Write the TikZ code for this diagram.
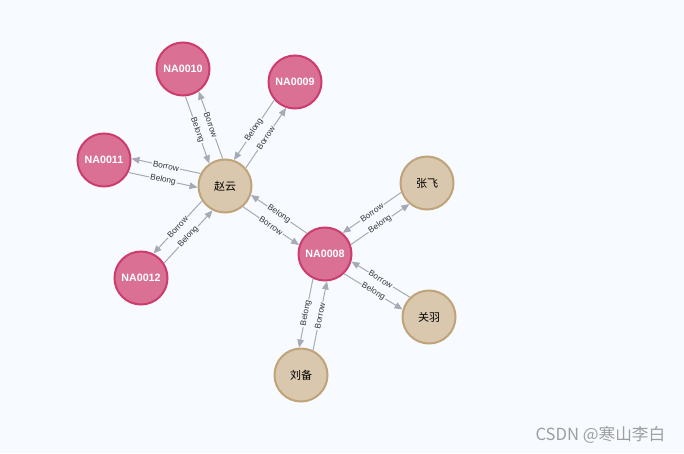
\documentclass[tikz,border=0pt]{standalone}
\usepackage{fontspec}
\setmainfont{Liberation Sans}
\newfontfamily\cjk{Noto Sans CJK SC}
\usetikzlibrary{arrows.meta}

\definecolor{bgcol}{HTML}{F7FBFF}
\definecolor{bookfill}{HTML}{DA7194}
\definecolor{bookline}{HTML}{CC3C6C}
\definecolor{personfill}{HTML}{D9C8AE}
\definecolor{personline}{HTML}{C0A378}
\definecolor{relcol}{HTML}{A5ABB6}

\begin{document}
\begin{tikzpicture}[x=0.75pt,y=-0.75pt,
  book/.style={circle,draw=bookline,fill=bookfill,line width=1.5pt,minimum size=39.75pt,inner sep=0pt,text=white,font=\fontsize{8}{9}\selectfont\bfseries},
  person/.style={circle,draw=personline,fill=personfill,line width=1.5pt,minimum size=39.75pt,inner sep=0pt,text=black,font=\cjk\fontsize{8.25}{9}\selectfont},
  rel/.style={draw=relcol,line width=0.75pt,-{Triangle[length=6pt,width=5pt]}},
  rellabel/.style={midway,sloped,fill=bgcol,inner sep=0.8pt,text=black!80,font=\fontsize{6.2}{7}\selectfont}]
\fill[bgcol] (0,0) rectangle (684,453);

\node[book] (n10) at (183,69) {NA0010};
\node[book] (n09) at (295,82) {NA0009};
\node[book] (n11) at (104,160) {NA0011};
\node[book] (n12) at (141,278) {NA0012};
\node[book] (n08) at (325,254) {NA0008};

\node[person] (zy) at (225,186) {赵云};
\node[person] (zf) at (427,183) {张飞};
\node[person] (gy) at (429,317) {关羽};
\node[person] (lb) at (301,375) {刘备};

% 赵云
\draw[rel] (n10.275) -- node[rellabel]{Belong} (zy.125);
\draw[rel] (zy.95) -- node[rellabel]{Borrow} (n10.305);
\draw[rel] (n09.221) -- node[rellabel]{Belong} (zy.71);
\draw[rel] (zy.41) -- node[rellabel]{Borrow} (n09.251);
\draw[rel] (n11.333) -- node[rellabel]{Belong} (zy.183);
\draw[rel] (zy.153) -- node[rellabel]{Borrow} (n11.3);
\draw[rel] (n12.33) -- node[rellabel]{Belong} (zy.243);
\draw[rel] (zy.213) -- node[rellabel]{Borrow} (n12.63);
\draw[rel] (n08.131) -- node[rellabel]{Belong} (zy.341);
\draw[rel] (zy.311) -- node[rellabel]{Borrow} (n08.161);

% NA0008
\draw[rel] (n08.20) -- node[rellabel]{Belong} (zf.230);
\draw[rel] (zf.200) -- node[rellabel]{Borrow} (n08.50);
\draw[rel] (n08.314) -- node[rellabel]{Belong} (gy.164);
\draw[rel] (gy.134) -- node[rellabel]{Borrow} (n08.344);
\draw[rel] (n08.244) -- node[rellabel]{Belong} (lb.94);
\draw[rel] (lb.64) -- node[rellabel]{Borrow} (n08.274);

\node[anchor=east,text=black!38,font=\cjk\fontsize{12.5}{14}\selectfont] (mark) at (670,435) {CSDN @寒山李白};
\end{tikzpicture}
\end{document}
